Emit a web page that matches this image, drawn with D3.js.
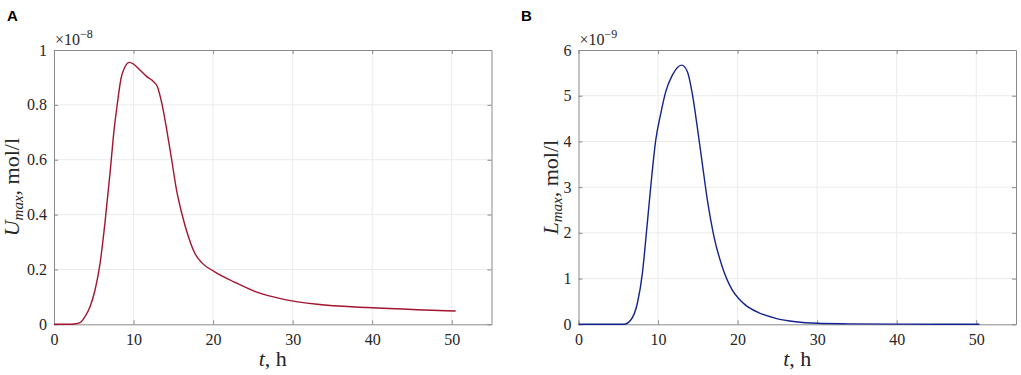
<!DOCTYPE html>
<html>
<head>
<meta charset="utf-8">
<script src="https://cdn.jsdelivr.net/npm/d3@7"></script>
<style>
  body { margin: 0; background: #fff; }
  svg { display: block; }
</style>
</head>
<body>
<div id="container"></div>
<script>
// DATA
// panel A: U_max (x 1e-8 mol/l)
const tA = [0, 1, 2, 2.5, 3.27, 3.9, 4.53, 5.16, 5.79, 6.4, 7.04, 7.55, 7.97, 8.43, 8.93, 9.48, 9.98,
            10.8, 11.66, 12.5, 13.0, 13.55, 14.18, 14.8, 15.4, 16.06, 16.9, 17.7, 18.6, 20.1, 22.6,
            25.5, 28.9, 33.1, 39.4, 45.7, 50.5];
const uA = [0, 0, 0, 0.001, 0.006, 0.028, 0.064, 0.125, 0.222, 0.368, 0.55, 0.708, 0.806, 0.897, 0.939, 0.955, 0.949,
            0.927, 0.903, 0.885, 0.866, 0.806, 0.708, 0.599, 0.49, 0.405, 0.319, 0.259, 0.224, 0.193, 0.155,
            0.117, 0.091, 0.073, 0.061, 0.053, 0.0485];
// panel B: L_max (x 1e-9 mol/l)
const tB = [0, 2, 4, 5.7, 6.57, 7.4, 8.03, 8.53, 9.08, 9.71, 10.34, 10.97, 11.8, 12.97, 13.68, 14.3, 14.93,
            15.56, 16.2, 17.03, 18.07, 19.3, 20.1, 21, 22.7, 24.8, 27.3, 30, 34, 40, 50.4];
const lB = [0, 0, 0, 0, 0.094, 0.46, 1.115, 1.99, 3.01, 4.03, 4.61, 5.09, 5.45, 5.67, 5.53, 5.05, 4.32,
            3.52, 2.72, 1.92, 1.26, 0.76, 0.57, 0.42, 0.25, 0.13, 0.055, 0.022, 0.01, 0.003, 0.001];

const xTicks = [0, 10, 20, 30, 40, 50];
const yTicksA = [0, 0.2, 0.4, 0.6, 0.8, 1];
const yTicksB = [0, 1, 2, 3, 4, 5, 6];

const W = 1021, H = 375;
const serif = '"Liberation Serif", "DejaVu Serif", serif';

const svg = d3.select("#container").append("svg")
  .attr("width", W).attr("height", H)
  .style("background", "#fff");

const panels = [
  { letter: "A", letterX: 7, left: 54, right: 491.5, t: tA, v: uA,
    yMax: 1, yTicks: yTicksA, color: "#a2142f", exp: "\u22128", sym: "U", labelX: 19 },
  { letter: "B", letterX: 521, left: 578.5, right: 1016, t: tB, v: lB,
    yMax: 6, yTicks: yTicksB, color: "#13228c", exp: "\u22129", sym: "L", labelX: 558 }
];

const plotTop = 50, plotBottom = 324.3;

// serif tick labels, grey axis lines
function styleAxis(sel) {
  sel.attr("font-family", serif).attr("font-size", 16);
  sel.selectAll("text").attr("fill", "#262626");
  sel.selectAll("path, line").attr("stroke", "#8a8a8a");
}

panels.forEach(p => {
  const x = d3.scaleLinear().domain([0, 55]).range([p.left, p.right]);
  const y = d3.scaleLinear().domain([0, p.yMax]).range([plotBottom, plotTop]);
  const g = svg.append("g");

  // grid
  g.append("g").selectAll("line").data(xTicks.slice(1)).enter().append("line")
    .attr("x1", d => x(d)).attr("x2", d => x(d)).attr("y1", plotTop).attr("y2", plotBottom)
    .attr("stroke", "#ebebeb").attr("stroke-width", 1);
  g.append("g").selectAll("line").data(p.yTicks.slice(1, -1)).enter().append("line")
    .attr("x1", p.left).attr("x2", p.right).attr("y1", d => y(d)).attr("y2", d => y(d))
    .attr("stroke", "#ebebeb").attr("stroke-width", 1);

  // axes (ticks inside, mirrored)
  g.append("g").attr("transform", `translate(0,${plotBottom})`)
    .call(d3.axisBottom(x).tickValues(xTicks).tickSizeInner(-4).tickSizeOuter(0).tickPadding(9).tickFormat(d3.format("d")))
    .call(styleAxis);
  g.append("g").attr("transform", `translate(0,${plotTop})`)
    .call(d3.axisTop(x).tickValues(xTicks).tickSizeInner(-4).tickSizeOuter(0).tickFormat(""))
    .call(styleAxis);
  g.append("g").attr("transform", `translate(${p.left},0)`)
    .call(d3.axisLeft(y).tickValues(p.yTicks).tickSizeInner(-4).tickSizeOuter(0).tickPadding(7).tickFormat(d => d3.format("~g")(d)))
    .call(styleAxis);
  g.append("g").attr("transform", `translate(${p.right},0)`)
    .call(d3.axisRight(y).tickValues(p.yTicks).tickSizeInner(-4).tickSizeOuter(0).tickFormat(""))
    .call(styleAxis);

  // line
  const line = d3.line()
    .x((d, i) => x(p.t[i]))
    .y(d => y(d))
    .curve(d3.curveMonotoneX);
  g.append("path").datum(p.v)
    .attr("d", line)
    .attr("fill", "none")
    .attr("stroke", p.color)
    .attr("stroke-width", 1.4);

  // exponent
  const ex = g.append("text").attr("x", p.left + 1).attr("y", 45)
    .attr("font-family", serif).attr("font-size", 16).attr("fill", "#262626");
  ex.append("tspan").text("\u00d710");
  ex.append("tspan").attr("dy", -7).attr("font-size", 12).text(p.exp);

  // x label
  const xl = g.append("text").attr("x", (p.left + p.right) / 2).attr("y", 366)
    .attr("text-anchor", "middle").attr("font-family", serif).attr("font-size", 22).attr("fill", "#262626");
  xl.append("tspan").attr("font-style", "italic").text("t");
  xl.append("tspan").text(", h");

  // y label
  const yl = g.append("text")
    .attr("transform", `translate(${p.labelX},${(plotTop + plotBottom) / 2}) rotate(-90)`)
    .attr("text-anchor", "middle").attr("font-family", serif).attr("font-size", 22).attr("fill", "#262626");
  yl.append("tspan").attr("font-style", "italic").text(p.sym);
  yl.append("tspan").attr("font-style", "italic").attr("font-size", 15).attr("dy", 4).text("max");
  yl.append("tspan").attr("dy", -4).text(", mol/l");

  // panel letter
  svg.append("text").attr("x", p.letterX).attr("y", 21)
    .attr("font-family", "Liberation Sans, Arial, sans-serif").attr("font-weight", "bold")
    .attr("font-size", 15).attr("fill", "#000").text(p.letter);
});
</script>
</body>
</html>
